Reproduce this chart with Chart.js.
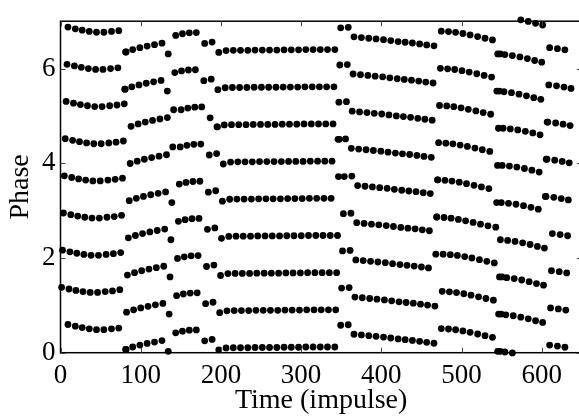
<!DOCTYPE html>
<html>
<head>
<meta charset="utf-8">
<script src="https://cdn.jsdelivr.net/npm/chart.js@4"></script>
<style>
  html, body { margin: 0; padding: 0; background: #fff; overflow: hidden; }
</style>
</head>
<body>
<canvas id="chart1" width="590" height="417"></canvas>
<script>
// one entry per impulse round: start time of the round, phase of the lowest row
// (the other rows sit rowSpacing apart), and which row is sampled first in the round
const times = [
    1.4, 10.6, 19.2, 28.0, 37.0, 46.2, 55.7, 64.8, 73.9,
    80.1, 88.9, 97.8, 106.9, 116.1, 125.4,
    133.2,
    142.5, 150.9, 159.5, 168.2,
    178.7, 187.9,
    195.1, 204.2, 213.2, 222.2, 231.3, 240.3, 249.4, 258.4, 267.5, 276.5, 285.5, 294.6, 303.6, 312.7, 321.7, 330.7, 339.8,
    346.0, 355.4,
    362.6, 371.8, 381.0, 390.1, 399.4, 408.4, 417.6, 426.4, 435.4, 444.4, 453.2, 462.3,
    469.2, 478.2, 487.0, 496.1, 505.1, 514.5, 523.7, 533.0, 542.7,
    544.0, 553.0, 562.3, 571.7, 581.0, 590.1, 598.9,
    605.4, 615.1, 624.4, 633.2
];
const basePhase = [
    0.595, 0.56, 0.53, 0.505, 0.487, 0.487, 0.505, 0.52, 0.545,
    0.07, 0.12, 0.16, 0.195, 0.225, 0.255,
    0.03,
    0.42, 0.455, 0.475, 0.48,
    0.25, 0.28,
    0.06, 0.10, 0.105, 0.105, 0.105, 0.11, 0.11, 0.11, 0.11, 0.115, 0.115, 0.115, 0.12, 0.12, 0.12, 0.12, 0.12,
    0.58, 0.59,
    0.39, 0.375, 0.36, 0.345, 0.33, 0.31, 0.29, 0.275, 0.26, 0.24, 0.22, 0.20,
    0.51, 0.50, 0.485, 0.46, 0.43, 0.395, 0.36, 0.325, 0.295,
    0.03, 0.015, -0.005, -0.035, -0.07, -0.11, -0.145,
    0.16, 0.14, 0.115, 0.085
];
const firstRow = [
    1, 1, 1, 1, 1, 1, 1, 1, 1,
    7, 7, 7, 7, 7, 7,
    7,
    7, 7, 7, 7,
    7, 7,
    6, 6, 6, 6, 6, 6, 6, 6, 6, 6, 6, 6, 6, 6, 6, 6, 6,
    5, 5,
    5, 5, 5, 5, 5, 5, 5, 5, 5, 5, 5, 5,
    3, 3, 3, 3, 3, 3, 3, 3, 3,
    7, 7, 7, 7, 7, 7, 7,
    4, 4, 4, 4
];
// rounds in which the jump happens: rows sampled after cutTimes already show the next value
const cutRounds = [8, 15, 21, 38, 52, 61, 68];
const cutTimes = [80.1, 139.3, 195.3, 346.0, 467.6, 543.8, 604.1];

const rowSpacing = 0.785;   // phase distance between rows
const rowsPerRound = 8;
const sweepLength = 9.0;    // time taken to sample all rows of one round
const lastTime = 637;
const xTicks = [0, 100, 200, 300, 400, 500, 600];
const yTicks = [0, 2, 4, 6];

const points = [];
times.forEach((t0, k) => {
    const c = cutRounds.indexOf(k);
    for (let n = -1; n <= 10; n++) {
        const order = ((n - firstRow[k]) % rowsPerRound + rowsPerRound) % rowsPerRound;
        const t = t0 + sweepLength * order / rowsPerRound;
        if (t > lastTime) continue;
        const b = (c >= 0 && t > cutTimes[c]) ? basePhase[k + 1] : basePhase[k];
        const y = b + n * rowSpacing;
        if (y >= -0.03 && y <= 7.05) points.push({ x: t, y: y });
    }
});

const serif = "'Liberation Serif', 'Times New Roman', Times, serif";

const boxPlugin = {
    id: 'box',
    afterDatasetsDraw(chart) {
        const { ctx, chartArea: a, scales: { x, y } } = chart;
        ctx.save();
        ctx.strokeStyle = '#000';
        ctx.lineWidth = 1.5;
        ctx.strokeRect(a.left, a.top, a.right - a.left, a.bottom - a.top);
        ctx.strokeStyle = '#444';
        ctx.lineWidth = 1;
        ctx.beginPath();
        xTicks.forEach(v => {
            const p = Math.round(x.getPixelForValue(v)) + 0.5;
            ctx.moveTo(p, a.bottom); ctx.lineTo(p, a.bottom - 5);
            ctx.moveTo(p, a.top); ctx.lineTo(p, a.top + 5);
        });
        yTicks.forEach(v => {
            const p = Math.round(y.getPixelForValue(v)) + 0.5;
            ctx.moveTo(a.left, p); ctx.lineTo(a.left + 5, p);
            ctx.moveTo(a.right, p); ctx.lineTo(a.right - 5, p);
        });
        ctx.stroke();
        ctx.restore();
    }
};

const config = {
    type: 'scatter',
    data: {
        datasets: [{
            data: points,
            pointRadius: 3.4,
            pointHoverRadius: 3.4,
            backgroundColor: '#000',
            borderWidth: 0,
            clip: 6
        }]
    },
    options: {
        responsive: false,
        devicePixelRatio: 1,
        animation: false,
        layout: { padding: { top: 8, right: 8.2, left: 0, bottom: 0 } },
        plugins: {
            legend: { display: false },
            tooltip: { enabled: false }
        },
        scales: {
            x: {
                type: 'linear',
                min: 0,
                max: 650,
                afterBuildTicks: s => { s.ticks = xTicks.map(v => ({ value: v })); },
                afterFit: s => { s.height = 64.3; },
                grid: { display: false, drawTicks: false },
                border: { display: false },
                ticks: {
                    color: '#000',
                    padding: 7,
                    maxRotation: 0,
                    font: { family: serif, size: 27 }
                },
                title: {
                    display: true,
                    text: 'Time (impulse)',
                    color: '#000',
                    padding: { top: 0, bottom: 0 },
                    font: { family: serif, size: 28 }
                }
            },
            y: {
                type: 'linear',
                min: 0,
                max: 7,
                afterBuildTicks: s => { s.ticks = yTicks.map(v => ({ value: v })); },
                afterFit: s => { s.width = 60.5; },
                grid: { display: false, drawTicks: false },
                border: { display: false },
                ticks: {
                    color: '#000',
                    padding: 5,
                    font: { family: serif, size: 27 }
                },
                title: {
                    display: true,
                    text: 'Phase',
                    color: '#000',
                    padding: { top: 4, bottom: 0 },
                    font: { family: serif, size: 28 }
                }
            }
        }
    },
    plugins: [boxPlugin]
};

let chart1 = new Chart(document.getElementById('chart1'), config);
</script>
</body>
</html>
